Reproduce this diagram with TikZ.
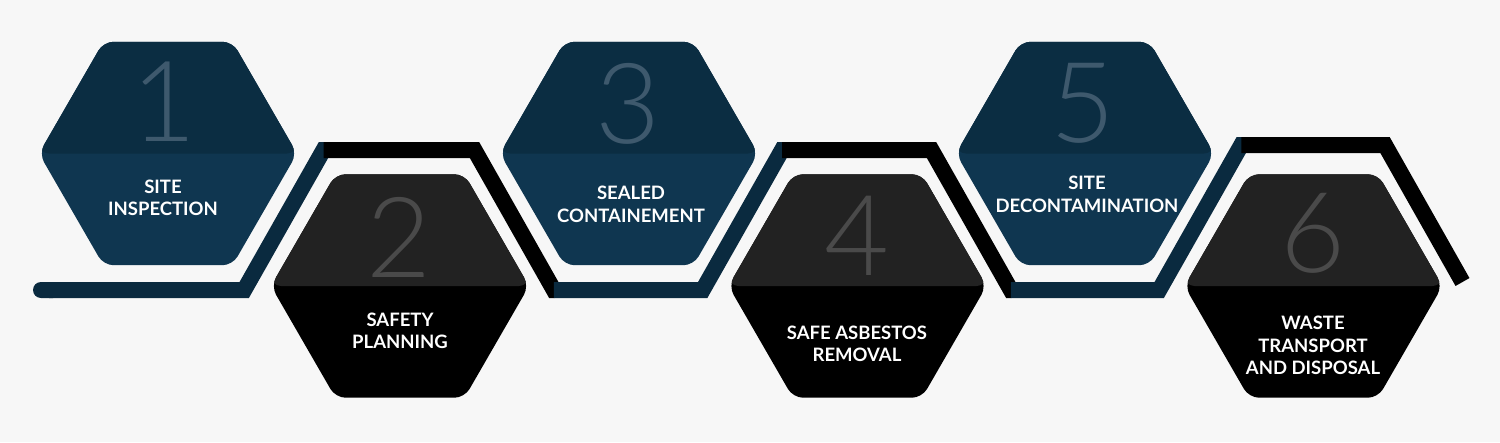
\documentclass[tikz,border=0pt]{standalone}
\usepackage{fontspec}
\setmainfont{Lato}
\newfontfamily\numfont{Lato Light}
\usepackage{tikz}
\usetikzlibrary{shapes.geometric, arrows.meta}

\definecolor{paper}{HTML}{F7F7F7}
\definecolor{navytop}{HTML}{0B2D42}
\definecolor{navybot}{HTML}{0F3650}
\definecolor{navynum}{HTML}{3E596D}
\definecolor{darktop}{HTML}{222222}
\definecolor{darkbot}{HTML}{000000}
\definecolor{darknum}{HTML}{4A4A4A}
\definecolor{bandnavy}{HTML}{0A2A3F}

\begin{document}
\begin{tikzpicture}[x=1pt, y=-1pt,
    hexnode/.style={regular polygon, regular polygon sides=6,
      minimum size=258pt, inner sep=0pt, rounded corners=10pt},
    bluehex/.style={hexnode, fill=navybot, path picture={\fill[navytop]
        (path picture bounding box.north west) rectangle
        (path picture bounding box.east);}},
    darkhex/.style={hexnode, fill=darkbot, path picture={\fill[darktop]
        (path picture bounding box.north west) rectangle
        (path picture bounding box.east);}},
    stepnum/.style={inner sep=0pt, font=\numfont\fontsize{112}{112}\selectfont},
    steplabel/.style={inner sep=0pt, text=white, align=center,
      font=\bfseries\fontsize{18.5}{22.5}\selectfont},
    band/.style={line width=16pt, line join=miter},
    blueband/.style={band, draw=bandnavy},
    blackband/.style={band, draw=black}]
  \fill[paper] (0,0) rectangle (1500,442);
  \useasboundingbox (0,0) rectangle (1500,442);

  % corners of the band
  \coordinate (s0) at (33,290);
  \coordinate (b1) at (244.2,290);   \coordinate (t1) at (323.5,150);
  \coordinate (t1r) at (474.5,150);  \coordinate (b2) at (553.8,290);
  \coordinate (b2r) at (702.7,290);  \coordinate (t2) at (782,150);
  \coordinate (t2r) at (931.5,150);  \coordinate (b3) at (1010.8,290);
  \coordinate (b3r) at (1159.2,290); \coordinate (t3) at (1241.3,145);
  \coordinate (t3r) at (1385,145);   \coordinate (e) at (1462.5,282);

  \draw[blueband, {Round Cap[]}-] (s0) -- (b1) -- (t1) -- ++(0.5,0);
  \draw[blackband] (t1) -- (t1r) -- (b2) -- ++(0.5,0);
  \draw[blueband] (b2) -- (b2r) -- (t2) -- ++(0.5,0);
  \draw[blackband] (t2) -- (t2r) -- (b3) -- ++(0.5,0);
  \draw[blueband] (b3) -- (b3r) -- (t3) -- ++(0.5,0);
  \draw[blackband] (t3) -- (t3r) -- (e);

  \node[bluehex] (hex1) at (168,153.5) {};
  \node[darkhex] (hex2) at (400,286) {};
  \node[bluehex] (hex3) at (629,153.5) {};
  \node[darkhex] (hex4) at (857.5,286) {};
  \node[bluehex] (hex5) at (1085,153.5) {};
  \node[darkhex] (hex6) at (1313.5,286) {};

  \node[stepnum, text=navynum] (num1) at (164,102) {1};
  \node[stepnum, text=darknum] (num2) at (399,237) {2};
  \node[stepnum, text=navynum] (num3) at (627.5,104) {3};
  \node[stepnum, text=darknum] (num4) at (857,236) {4};
  \node[stepnum, text=navynum] (num5) at (1082.5,103) {5};
  \node[stepnum, text=darknum] (num6) at (1313,233) {6};

  \node[steplabel] (lab1) at (163,198) {SITE\\INSPECTION};
  \node[steplabel] (lab2) at (400,331) {SAFETY\\PLANNING};
  \node[steplabel] (lab3) at (631,204.5) {SEALED\\CONTAINEMENT};
  \node[steplabel] (lab4) at (857,344) {SAFE ASBESTOS\\REMOVAL};
  \node[steplabel] (lab5) at (1087,194.5) {SITE\\DECONTAMINATION};
  \node[steplabel] (lab6) at (1313,345.5) {WASTE\\TRANSPORT\\AND DISPOSAL};
\end{tikzpicture}
\end{document}
